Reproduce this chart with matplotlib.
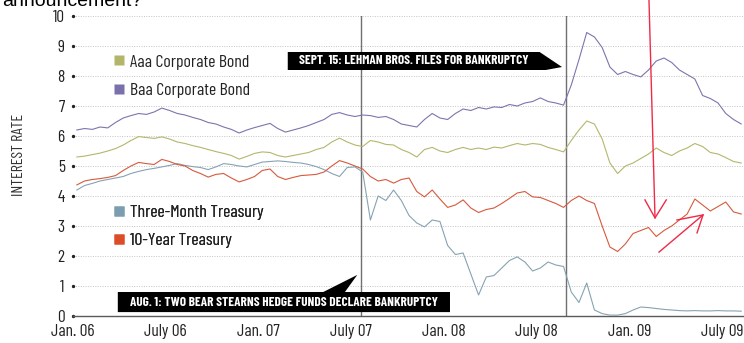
#!/usr/bin/env python3
"""Interest rates 2006-2009: corporate bonds vs treasuries, with the two
credit-crisis events marked (Bear Stearns funds, Lehman bankruptcy)."""

import matplotlib
matplotlib.use("Agg")
import matplotlib.pyplot as plt
import numpy as np
from matplotlib.lines import Line2D
from matplotlib.patches import Polygon

FONT = ["Barlow Condensed", "Archivo Narrow", "DejaVu Sans"]
plt.rcParams["font.family"] = FONT

# x axis in months since Jan. 2006, one reading every half month
MONTHS = np.arange(87) * 0.5 + 0.25

TICK_MONTHS = [0, 6, 12, 18, 24, 30, 36, 42]
TICK_LABELS = ["Jan. 06", "July 06", "Jan. 07", "July 07",
               "Jan. 08", "July 08", "Jan. 09", "July 09"]

# values (percent)
BAA = [6.20, 6.25, 6.22, 6.30, 6.27, 6.45, 6.60, 6.68, 6.75, 6.72,
       6.80, 6.93, 6.85, 6.75, 6.70, 6.62, 6.55, 6.45, 6.40, 6.30,
       6.22, 6.10, 6.20, 6.28, 6.35, 6.42, 6.25, 6.13, 6.20, 6.27,
       6.35, 6.45, 6.55, 6.72, 6.78, 6.70, 6.65, 6.70, 6.68, 6.62,
       6.65, 6.55, 6.40, 6.35, 6.30, 6.55, 6.75, 6.60, 6.55, 6.75,
       6.90, 6.85, 6.95, 6.90, 6.97, 6.95, 7.05, 7.00, 7.10, 7.15,
       7.27, 7.15, 7.10, 7.03, 7.70, 8.55, 9.45, 9.30, 8.95, 8.30,
       8.05, 8.15, 8.05, 7.97, 8.20, 8.50, 8.60, 8.45, 8.20, 8.05,
       7.90, 7.35, 7.25, 7.10, 6.75, 6.55, 6.40]

AAA = [5.30, 5.33, 5.38, 5.43, 5.50, 5.58, 5.70, 5.85, 5.98, 5.95,
       5.92, 5.97, 5.90, 5.80, 5.75, 5.68, 5.62, 5.55, 5.48, 5.42,
       5.35, 5.23, 5.32, 5.42, 5.47, 5.45, 5.35, 5.30, 5.35, 5.40,
       5.45, 5.55, 5.62, 5.80, 5.93, 5.80, 5.70, 5.65, 5.85, 5.80,
       5.72, 5.70, 5.55, 5.45, 5.30, 5.55, 5.62, 5.50, 5.45, 5.55,
       5.62, 5.55, 5.60, 5.55, 5.63, 5.60, 5.68, 5.75, 5.70, 5.75,
       5.72, 5.62, 5.55, 5.47, 5.85, 6.20, 6.50, 6.40, 5.90, 5.10,
       4.75, 5.00, 5.10, 5.25, 5.40, 5.60, 5.45, 5.35, 5.50, 5.60,
       5.75, 5.65, 5.45, 5.40, 5.28, 5.15, 5.10]

TEN_YEAR = [4.37, 4.50, 4.55, 4.58, 4.62, 4.68, 4.85, 5.00, 5.12, 5.08,
            5.05, 5.22, 5.15, 5.05, 5.00, 4.85, 4.75, 4.63, 4.72, 4.75,
            4.60, 4.47, 4.55, 4.65, 4.85, 4.90, 4.65, 4.55, 4.62, 4.68,
            4.70, 4.72, 4.80, 5.00, 5.18, 5.10, 5.00, 4.90, 4.65, 4.50,
            4.55, 4.43, 4.55, 4.60, 4.15, 3.97, 4.20, 3.90, 3.62, 3.70,
            3.87, 3.60, 3.45, 3.55, 3.60, 3.75, 3.92, 4.10, 4.15, 3.97,
            3.95, 3.85, 3.75, 3.62, 3.85, 4.00, 3.85, 3.75, 3.00, 2.30,
            2.15, 2.40, 2.75, 2.85, 2.95, 2.65, 2.85, 3.00, 3.20, 3.40,
            3.90, 3.70, 3.50, 3.65, 3.80, 3.47, 3.40]

THREE_MONTH = [4.20, 4.35, 4.42, 4.50, 4.55, 4.60, 4.65, 4.75, 4.82, 4.88,
               4.92, 4.97, 5.02, 5.08, 5.02, 4.98, 4.95, 4.88, 4.97, 5.08,
               5.05, 5.00, 4.97, 5.05, 5.13, 5.15, 5.17, 5.15, 5.12, 5.10,
               5.05, 4.98, 4.88, 4.75, 4.65, 4.95, 4.97, 4.80, 3.20, 4.00,
               3.85, 4.20, 3.85, 3.35, 3.10, 2.97, 3.20, 3.15, 2.35, 2.05,
               2.10, 1.40, 0.70, 1.30, 1.35, 1.60, 1.85, 1.97, 1.80, 1.50,
               1.60, 1.80, 1.70, 1.65, 0.80, 0.45, 1.10, 0.20, 0.08, 0.03,
               0.03, 0.08, 0.20, 0.30, 0.28, 0.25, 0.22, 0.20, 0.18, 0.17,
               0.18, 0.17, 0.17, 0.18, 0.17, 0.17, 0.16]

SERIES = [
    ("Aaa Corporate Bond", AAA, "#b4b76c", "#b3b66a"),
    ("Baa Corporate Bond", BAA, "#7c75ad", "#7a70ab"),
    ("Three-Month Treasury", THREE_MONTH, "#86a3b3", "#7b9db2"),
    ("10-Year Treasury", TEN_YEAR, "#d65a3c", "#dc4c27"),
]

BEAR_MONTH = 18.64     # Aug. 1, 2007
LEHMAN_MONTH = 31.9    # Sept. 15, 2008


def main():
    fig = plt.figure(figsize=(7.44, 3.43), dpi=100)
    ax = fig.add_axes([73 / 744, 27 / 343, 671 / 744, 300 / 343])

    for label, vals, color, _ in SERIES:
        ax.plot(MONTHS, vals, color=color, linewidth=0.8, zorder=3)

    ax.set_xlim(0, 43.43)
    ax.set_ylim(0, 10)

    # dotted grid + solid baseline
    for v in range(1, 11):
        ax.axhline(v, color="#c4c4c4", linestyle=(0, (1, 1.5)), linewidth=0.7, zorder=0)
    for s in ("top", "right", "left"):
        ax.spines[s].set_visible(False)
    ax.spines["bottom"].set_color("#5a5a5a")
    ax.spines["bottom"].set_linewidth(1.0)

    ax.set_yticks(range(0, 11))
    ax.set_yticklabels([str(v) for v in range(0, 11)], fontsize=12.5, color="#222222")
    ax.tick_params(axis="y", length=0, pad=6)
    for t in ax.yaxis.get_major_ticks():
        t.tick1line.set_marker("o")
        t.tick1line.set_markersize(1.6)
        t.tick1line.set_markerfacecolor("#222222")
        t.tick1line.set_markeredgecolor("#222222")

    ax.set_xticks(TICK_MONTHS)
    ax.set_xticklabels(TICK_LABELS, fontsize=12.5, color="#222222")
    ax.tick_params(axis="x", length=0, pad=6)

    fig.text(19 / 744, 1 - 155 / 343, "INTEREST RATE", rotation=90,
             ha="center", va="center", fontsize=11.5, color="#333333")

    # event lines
    for m in (BEAR_MONTH, LEHMAN_MONTH):
        ax.plot([m, m], [0, 10], color="#707070", linewidth=1.0, zorder=2)

    # Lehman callout: black box with tail pointing right
    leh = Polygon([(13.9, 8.2), (13.9, 8.8), (30.2, 8.8), (31.65, 8.3),
                   (30.6, 8.2)], closed=True, facecolor="black",
                  edgecolor="none", zorder=5)
    ax.add_patch(leh)
    ax.text(22.05, 8.5, "SEPT. 15: LEHMAN BROS. FILES FOR BANKRUPTCY",
            ha="center", va="center", color="white", fontsize=9.5,
            fontweight="bold", zorder=6)

    # Bear Stearns callout: box with tail pointing up to the line
    bear = Polygon([(2.9, 0.13), (2.9, 0.8), (16.2, 0.8), (18.4, 1.37),
                    (17.6, 0.8), (24.4, 0.8), (24.4, 0.13)], closed=True,
                   facecolor="black", edgecolor="none", zorder=5)
    ax.add_patch(bear)
    ax.text(13.65, 0.465, "AUG. 1: TWO BEAR STEARNS HEDGE FUNDS DECLARE BANKRUPTCY",
            ha="center", va="center", color="white", fontsize=9.5,
            fontweight="bold", zorder=6)

    # legends (two groups)
    def handles(items):
        return [Line2D([], [], linestyle="none", marker="s", markersize=7,
                       markerfacecolor=sw, markeredgecolor="none")
                for _, _, _, sw in items]

    for items, ycen in ((SERIES[:2], 0.80), (SERIES[2:], 0.298)):
        leg = ax.legend(handles(items), [it[0] for it in items],
                        loc="center left", bbox_to_anchor=(0.062, ycen),
                        frameon=False, fontsize=12.8, handlelength=0.55,
                        handletextpad=0.3, labelspacing=0.72, borderpad=0,
                        borderaxespad=0)
        for txt in leg.get_texts():
            txt.set_color("#222222")
        ax.add_artist(leg)

    # hand-drawn red arrows on top of the chart
    red = "#ee2a48"
    ax.plot([37.28, 37.67], [10.53, 3.27], color=red, lw=1.0, clip_on=False, zorder=7)
    ax.plot([37.02, 37.67, 38.40], [3.87, 3.27, 3.87], color=red, lw=1.0,
            clip_on=False, zorder=7)
    ax.plot([37.93, 40.78], [2.13, 3.37], color=red, lw=1.0, zorder=7)
    ax.plot([39.09, 40.78, 40.39], [3.20, 3.37, 2.77], color=red, lw=1.0, zorder=7)

    # clipped page text above the chart
    fig.text(2 / 744, 1 - 6 / 343, "announcement?", ha="left", va="baseline",
             fontsize=14, family=["Liberation Sans", "DejaVu Sans"], color="black")

    fig.savefig("out.png", dpi=100)
    plt.close(fig)


if __name__ == "__main__":
    main()
